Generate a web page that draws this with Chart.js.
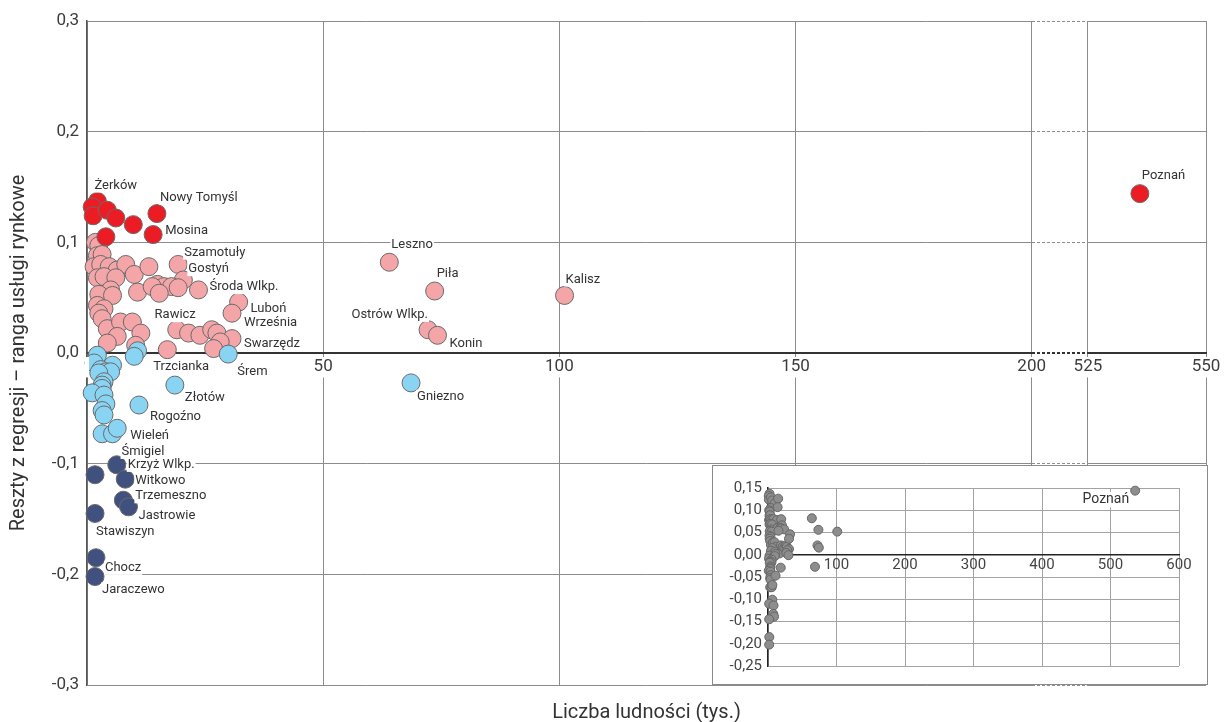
<!DOCTYPE html>
<html lang="pl">
<head>
<meta charset="utf-8">
<title>Reszty z regresji – ranga usługi rynkowe</title>
<script src="https://cdn.jsdelivr.net/npm/chart.js@4.4.1/dist/chart.umd.min.js"></script>
<style>
  html, body { margin: 0; padding: 0; background: #fff; }
  #wrap { position: relative; width: 1231px; height: 722px; overflow: hidden; }
  #main { position: absolute; left: 0; top: 0; }
  #insetBox { position: absolute; left: 712px; top: 465px; width: 496px; height: 220px;
              box-sizing: border-box; border: 1px solid #8a8a8a; background: #fff; }
  #inset { display: block; }
</style>
</head>
<body>
<div id="wrap">
  <canvas id="main" width="1231" height="722"></canvas>
  <div id="insetBox"><canvas id="inset" width="494" height="218"></canvas></div>
</div>
<script>
// ---- data: population (thousands) and regression residual per town, by group ----
const redNames  = ['Żerków', '', '', '', '', '', 'Nowy Tomyśl', '', 'Mosina', 'Poznań'];
const redPop    = [2.2, 1.1, 1.3, 4.3, 6.1, 9.8, 14.8, 4.0, 14.0, 536];
const redResid  = [0.137, 0.132, 0.124, 0.129, 0.122, 0.116, 0.126, 0.105, 0.107, 0.144];

const pinkNames = ['', '', '', '', '', '', '', '', '', '',
                   '', '', '', '', '', '', '', '', '', '',
                   'Szamotuły', 'Gostyń', '', '', 'Środa Wlkp.', '', '', '', '', '',
                   '', '', '', '', '', '', '', '', '', '',
                   'Rawicz', '', '', '', 'Swarzędz', '', '', 'Luboń', 'Września',
                   'Leszno', 'Piła', 'Kalisz', 'Ostrów Wlkp.', 'Konin'];
const pinkPop   = [1.8, 2.5, 2.2, 3.2, 1.5, 2.9, 4.7, 6.4, 8.2, 10.0,
                   13.1, 2.2, 3.6, 6.1, 10.7, 14.9, 16.3, 5.0, 2.5, 13.8,
                   19.3, 20.4, 17.9, 19.3, 23.6, 5.4, 15.3, 2.2, 3.6, 2.5,
                   3.2, 4.3, 7.1, 9.6, 11.4, 6.4, 4.3, 10.3, 17.0, 19.0,
                   21.5, 23.9, 26.4, 27.5, 30.7, 28.2, 26.8, 32.1, 30.7,
                   64.0, 73.6, 101.1, 72.2, 74.2];
const pinkResid = [0.100, 0.097, 0.088, 0.089, 0.078, 0.080, 0.078, 0.075, 0.080, 0.071,
                   0.078, 0.068, 0.069, 0.068, 0.055, 0.062, 0.060, 0.057, 0.053, 0.060,
                   0.080, 0.066, 0.060, 0.059, 0.057, 0.052, 0.054, 0.043, 0.040, 0.036,
                   0.031, 0.022, 0.028, 0.028, 0.018, 0.015, 0.009, 0.007, 0.003, 0.021,
                   0.018, 0.016, 0.021, 0.018, 0.013, 0.010, 0.004, 0.046, 0.036,
                   0.082, 0.056, 0.052, 0.021, 0.016];

const blueNames = ['', '', 'Trzcianka', '', '', '', '', '', '', '',
                   '', '', '', '', '', '', '', 'Rogoźno', '', 'Śmigiel',
                   'Wieleń', 'Złotów', 'Śrem', 'Gniezno'];
const bluePop   = [2.2, 10.7, 10.0, 1.5, 5.4, 2.9, 4.0, 5.0, 2.5, 3.6,
                   3.2, 3.2, 1.1, 3.6, 4.0, 3.2, 3.6, 11.0, 3.2, 5.4,
                   6.4, 18.6, 29.9, 68.6];
const blueResid = [-0.002, 0.002, -0.003, -0.009, -0.011, -0.015, -0.017, -0.017, -0.018, -0.026,
                   -0.029, -0.032, -0.036, -0.038, -0.046, -0.052, -0.056, -0.047, -0.073, -0.073,
                   -0.068, -0.029, -0.001, -0.027];

const navyNames = ['Krzyż Wlkp.', '', 'Witkowo', 'Trzemeszno', 'Jastrowie', 'Stawiszyn', 'Chocz', 'Jaraczewo'];
const navyPop   = [6.3, 1.7, 8.1, 7.7, 8.8, 1.7, 1.9, 1.7];
const navyResid = [-0.101, -0.110, -0.114, -0.133, -0.139, -0.145, -0.185, -0.202];

// ---- ticks ----
const xTickValues      = [0, 50, 100, 150, 200, 525, 550];
const yTickValues      = [-0.3, -0.2, -0.1, 0, 0.1, 0.2, 0.3];
const insetXTickValues = [0, 100, 200, 300, 400, 500, 600];
const insetYTickValues = [-0.25, -0.2, -0.15, -0.1, -0.05, 0, 0.05, 0.1, 0.15];

// ---- axis break between 200 and 525 thousand ----
const BREAK_FROM = 200, BREAK_TO = 525, BREAK_SPAN = 11.9;

// ---- styling ----
const FONT = 'Roboto, "Noto Sans", sans-serif';
const COLORS = { red: '#ec1c24', pink: '#f4a5a8', blue: '#89d3f3', navy: '#40507f' };
const MARK_BORDER = '#6a6a6a';

// label offsets from the centre of the marker: [dx, dy, align]
const labelPlacement = {
  'Żerków': [-3, -16], 'Nowy Tomyśl': [3, -16], 'Mosina': [12, -4], 'Poznań': [2, -18],
  'Szamotuły': [6, -12], 'Gostyń': [5, -11], 'Środa Wlkp.': [11, -3], 'Rawicz': [-34, -18],
  'Swarzędz': [12, 5], 'Luboń': [12, 7], 'Września': [12, 10],
  'Leszno': [2, -18], 'Piła': [2, -17], 'Kalisz': [1, -16], 'Ostrów Wlkp.': [0, -15, 'right'], 'Konin': [12, 8],
  'Trzcianka': [19, 10], 'Rogoźno': [11, 12], 'Śmigiel': [9, 18], 'Wieleń': [13, 7],
  'Złotów': [10, 13], 'Śrem': [9, 18], 'Gniezno': [6, 14],
  'Krzyż Wlkp.': [11, 0], 'Witkowo': [10, 2], 'Trzemeszno': [12, -4], 'Jastrowie': [10, 9],
  'Stawiszyn': [1, 18], 'Chocz': [9, 10], 'Jaraczewo': [7, 13]
};
const insetPlacement = { 'Poznań': [-6, 9, 'right'] };

Chart.defaults.font.family = FONT;
Chart.defaults.color = '#3c3c3c';

function foldX(v) {
  if (v <= BREAK_FROM) return v;
  if (v >= BREAK_TO) return v - BREAK_TO + BREAK_FROM + BREAK_SPAN;
  return BREAK_FROM + (v - BREAK_FROM) / (BREAK_TO - BREAK_FROM) * BREAK_SPAN;
}
function unfoldX(f) {
  if (f <= BREAK_FROM) return f;
  if (f >= BREAK_FROM + BREAK_SPAN) return f - BREAK_FROM - BREAK_SPAN + BREAK_TO;
  return BREAK_FROM + (f - BREAK_FROM) / BREAK_SPAN * (BREAK_TO - BREAK_FROM);
}

// linear scale with a compressed section between BREAK_FROM and BREAK_TO
class BrokenLinearScale extends Chart.LinearScale {
  getPixelForValue(value) {
    if (value === null || value === undefined || isNaN(value)) return NaN;
    const lo = foldX(this.min), hi = foldX(this.max);
    return this.getPixelForDecimal((foldX(value) - lo) / (hi - lo));
  }
  getValueForPixel(pixel) {
    const lo = foldX(this.min), hi = foldX(this.max);
    return unfoldX(lo + this.getDecimalForPixel(pixel) * (hi - lo));
  }
}
BrokenLinearScale.id = 'brokenLinear';
BrokenLinearScale.defaults = Chart.LinearScale.defaults;
Chart.register(BrokenLinearScale);

const toPoints = (pop, resid) => pop.map((p, i) => ({ x: p, y: resid[i] }));
const fmtComma = (v, digits) => (Math.abs(v) < 1e-9 ? 0 : v).toFixed(digits).replace('.', ',');
const setTicks = values => scale => { scale.ticks = values.map(v => ({ value: v })); };

function group(pop, resid, names, color) {
  return {
    data: toPoints(pop, resid), names,
    xAxisID: 'x', yAxisID: 'y',
    backgroundColor: color, borderColor: MARK_BORDER, borderWidth: 1,
    pointRadius: 9, pointHoverRadius: 9, clip: false
  };
}

// dotted grid inside the axis break
const axisBreak = {
  id: 'axisBreak',
  beforeDatasetsDraw(chart) {
    const { ctx, chartArea, scales: { x, y } } = chart;
    const a = Math.round(x.getPixelForValue(BREAK_FROM) - 0.5) + 1;
    const b = Math.round(x.getPixelForValue(BREAK_TO) - 0.5);
    ctx.save();
    ctx.fillStyle = '#fff';
    ctx.fillRect(a, chartArea.top - 2, b - a, chartArea.bottom - chartArea.top + 4);
    ctx.setLineDash([3, 2]);
    yTickValues.forEach(v => {
      const zero = Math.abs(v) < 1e-9;
      const py = y.getPixelForValue(v);
      ctx.lineWidth = zero ? 2 : 1;
      ctx.strokeStyle = zero ? '#333' : '#8c8c8c';
      const yy = zero ? Math.round(py) : Math.round(py - 0.5) + 0.5;
      ctx.beginPath();
      ctx.moveTo(a, yy);
      ctx.lineTo(b, yy);
      ctx.stroke();
    });
    ctx.restore();
  }
};

// town names next to their markers
function nameLabels(placement, size) {
  return {
    id: 'nameLabels',
    afterDatasetsDraw(chart) {
      const ctx = chart.ctx;
      ctx.save();
      ctx.font = size + 'px ' + FONT;
      ctx.textBaseline = 'middle';
      chart.data.datasets.forEach((ds, di) => {
        const meta = chart.getDatasetMeta(di);
        (ds.names || []).forEach((name, i) => {
          const place = name && placement[name];
          const el = meta.data[i];
          if (!place || !el) return;
          const [dx, dy, align] = place;
          const w = ctx.measureText(name).width;
          const tx = el.x + dx, ty = el.y + dy;
          const left = align === 'right' ? tx - w : tx;
          ctx.fillStyle = '#fff';
          ctx.fillRect(left - 1, ty - size * 0.55, w + 2, size * 1.1);
          ctx.fillStyle = '#333';
          ctx.textAlign = align === 'right' ? 'right' : 'left';
          ctx.fillText(name, tx, ty);
        });
      });
      ctx.restore();
    }
  };
}

new Chart(document.getElementById('main'), {
  type: 'scatter',
  data: {
    datasets: [
      group(redPop, redResid, redNames, COLORS.red),
      group(navyPop, navyResid, navyNames, COLORS.navy),
      group(bluePop, blueResid, blueNames, COLORS.blue),
      group(pinkPop, pinkResid, pinkNames, COLORS.pink)
    ]
  },
  options: {
    responsive: false, animation: false, devicePixelRatio: 1,
    events: [],
    layout: { padding: { left: 0, right: 25, top: 21, bottom: 0 } },
    plugins: { legend: { display: false }, tooltip: { enabled: false } },
    scales: {
      x: {
        type: 'brokenLinear', position: { y: 0 }, min: 0, max: 550, bounds: 'data',
        afterBuildTicks: setTicks(xTickValues),
        grid: { color: '#8c8c8c', lineWidth: 1, drawTicks: false },
        border: { display: true, color: '#333', width: 2 },
        ticks: {
          autoSkip: false, maxRotation: 0, padding: 4, z: 1,
          color: '#3c3c3c', font: { size: 17 },
          showLabelBackdrop: true, backdropColor: '#fff', backdropPadding: { x: 2, y: 0 },
          callback: v => (v === 0 ? '' : String(v))
        }
      },
      xTitle: {
        type: 'linear', axis: 'x', position: 'bottom', min: 0, max: 1,
        grid: { display: false, drawTicks: false },
        border: { display: false },
        ticks: { display: false },
        title: { display: true, text: 'Liczba ludności (tys.)', color: '#333',
                 font: { size: 20 }, padding: { top: 16, bottom: -3 } }
      },
      y: {
        min: -0.3, max: 0.3,
        afterBuildTicks: setTicks(yTickValues),
        afterFit: s => { s.width = 87; },
        grid: { color: '#8c8c8c', lineWidth: 1, drawTicks: false },
        border: { color: '#555', width: 1.5 },
        ticks: { padding: 8, color: '#3c3c3c', font: { size: 17 }, callback: v => fmtComma(v, 1) },
        title: { display: true, text: 'Reszty z regresji – ranga usługi rynkowe', color: '#333',
                 font: { size: 20 }, padding: { top: 7, bottom: 0 } }
      }
    }
  },
  plugins: [axisBreak, nameLabels(labelPlacement, 13)]
});

// overview of all towns on an unbroken axis
const allPop   = [...redPop, ...pinkPop, ...bluePop, ...navyPop];
const allResid = [...redResid, ...pinkResid, ...blueResid, ...navyResid];
const allNames = allPop.map((_, i) => (i === redNames.indexOf('Poznań') ? 'Poznań' : ''));

new Chart(document.getElementById('inset'), {
  type: 'scatter',
  data: {
    datasets: [{
      data: toPoints(allPop, allResid), names: allNames,
      backgroundColor: '#8d8d8d', borderColor: '#666', borderWidth: 1,
      pointRadius: 4.5, pointHoverRadius: 4.5, clip: false
    }]
  },
  options: {
    responsive: false, animation: false, devicePixelRatio: 1,
    events: [],
    layout: { padding: { left: 0, right: 28, top: 22, bottom: 18 } },
    plugins: { legend: { display: false }, tooltip: { enabled: false } },
    scales: {
      x: {
        type: 'linear', position: { y: 0 }, min: 0, max: 600,
        afterBuildTicks: setTicks(insetXTickValues),
        grid: { color: '#a3a3a3', lineWidth: 1, drawTicks: false },
        border: { color: '#222', width: 1.5 },
        ticks: { autoSkip: false, maxRotation: 0, padding: 1, color: '#444', font: { size: 15 },
                 callback: v => (v === 0 ? '' : String(v)) }
      },
      y: {
        min: -0.25, max: 0.15,
        afterBuildTicks: setTicks(insetYTickValues),
        afterFit: s => { s.width = 55; },
        grid: { color: '#a3a3a3', lineWidth: 1, drawTicks: false },
        border: { color: '#222', width: 1.5 },
        ticks: { padding: 6, color: '#444', font: { size: 15 }, callback: v => fmtComma(v, 2) }
      }
    }
  },
  plugins: [nameLabels(insetPlacement, 14)]
});
</script>
</body>
</html>
